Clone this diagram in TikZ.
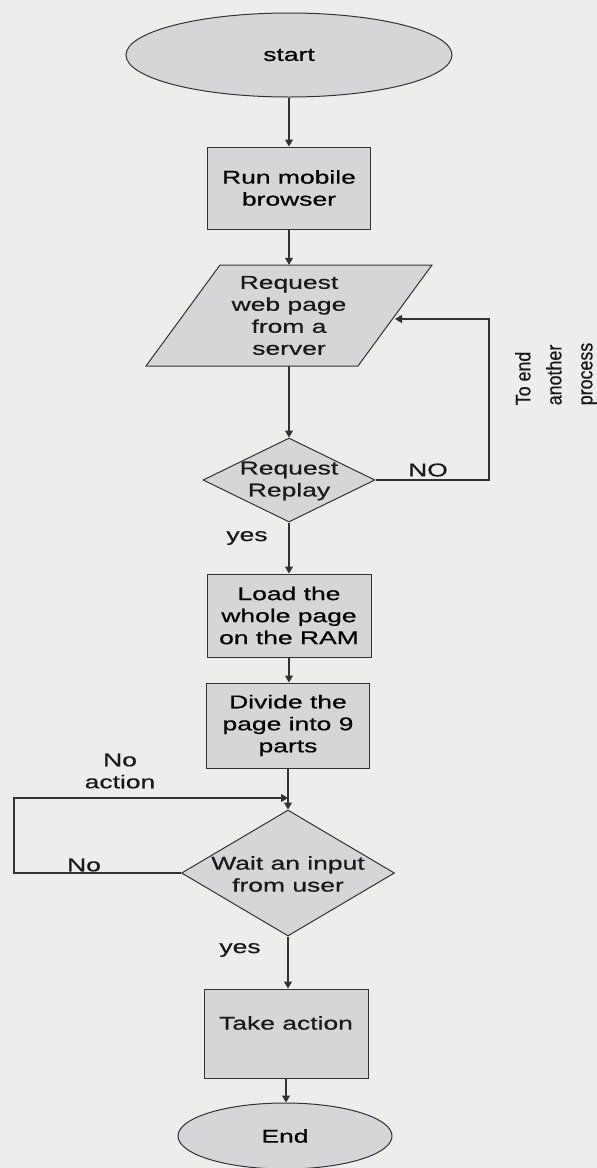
\documentclass[tikz,border=0pt]{standalone}
\usepackage{fontspec}
\setmainfont{Liberation Sans}[FakeStretch=1.43,FakeBold=0.6]
\newfontfamily\sidefont{Liberation Sans}[FakeStretch=0.85,FakeBold=0.4]
\usetikzlibrary{shapes.geometric,arrows.meta}
\definecolor{paper}{RGB}{237,237,235}
\definecolor{shapefill}{RGB}{214,214,217}
\definecolor{ink}{RGB}{50,50,50}
\newcommand{\mainsize}{\fontsize{18.5}{22}\selectfont}
\tikzset{
  line/.style={draw=ink, line width=1.1pt},
  arr/.style={line, -{Triangle[width=8pt,length=7pt]}},
  shapebox/.style={draw=ink, fill=shapefill, line width=1pt},
  box/.style={shapebox, align=center, inner sep=0pt, font=\mainsize},
  txt/.style={align=center, inner sep=0pt, font=\mainsize, text=black!90},
}
\begin{document}
\begin{tikzpicture}[x=1pt,y=-1pt]
\useasboundingbox (0,0) rectangle (597,1168);
\fill[paper] (0,0) rectangle (597,1168);

% terminal and process boxes
\node[box, ellipse, minimum width=326pt, minimum height=84pt] (start) at (289,55) {start};
\node[box, rectangle, minimum width=163pt, minimum height=82pt] (run) at (289,188) {Run mobile\\browser};

% input/output parallelogram
\draw[shapebox] (220,265) -- (432,265) -- (358,366) -- (146,366) -- cycle;
\node[txt, minimum width=212pt, minimum height=101pt] (req) at (289,315.5) {Request\\web page\\from a\\server};
\coordinate (reqin) at (395,319);

% first decision
\node[shapebox, diamond, minimum width=172pt, minimum height=84pt, inner sep=0pt] (rr) at (289,480) {};
\node[txt] (rrtext) at (289,481) {Request\\Replay};

\node[box, rectangle, minimum width=164pt, minimum height=83pt] (load) at (289,615.5) {Load the\\whole page\\on the RAM};
\node[box, rectangle, minimum width=163pt, minimum height=85pt] (divide) at (288,725.5) {Divide the\\page into 9\\parts};

% second decision
\node[shapebox, diamond, minimum width=213pt, minimum height=126pt, inner sep=0pt] (wait) at (288,873) {};
\node[txt] (waittext) at (288,874) {Wait an input\\from user};

% last process box, its text sits in the upper part
\node[shapebox, rectangle, minimum width=164pt, minimum height=89pt, inner sep=0pt] (take) at (286,1033.5) {};
\node[txt] (taketext) at (286,1023) {Take action};
\node[box, ellipse, minimum width=214pt, minimum height=66pt] (end) at (285,1136) {End};

% connectors
\draw[arr] (start.south) -- (start.south |- run.north);
\draw[arr] (run.south) -- (run.south |- req.north);
\draw[arr] (req.south) -- (req.south |- rr.north);
\coordinate (fbturn) at (489,319);
\draw[arr] (rr.east) -| (fbturn) -- (reqin);
\draw[arr] (rr.south) -- (rr.south |- load.north);
\draw[arr] (load.south) -- (load.south |- divide.north);
\draw[arr] (divide.south) -- (divide.south |- wait.north);
\coordinate (join) at (288,798);
\coordinate (loopcorner) at (14,798);
\draw[arr] (wait.west) -| (loopcorner) -- (join);
\draw[arr] (wait.south) -- (wait.south |- take.north);
\draw[arr] (take.south) -- (take.south |- end.north);

% connector labels
\node[txt] (lblno) at (428,470) {NO};
\node[txt] (lblyes1) at (247,538) {yes};
\node[txt] (lblnoaction) at (120,771) {No\\action};
\node[txt] (lblno2) at (84,865) {No};
\node[txt] (lblyes2) at (240,950) {yes};
\node[align=left, inner sep=0pt, rotate=90, text=black!90, font=\sidefont\fontsize{21}{31}\selectfont] (side) at (556,374) {To end\\another\\process};
\end{tikzpicture}
\end{document}
